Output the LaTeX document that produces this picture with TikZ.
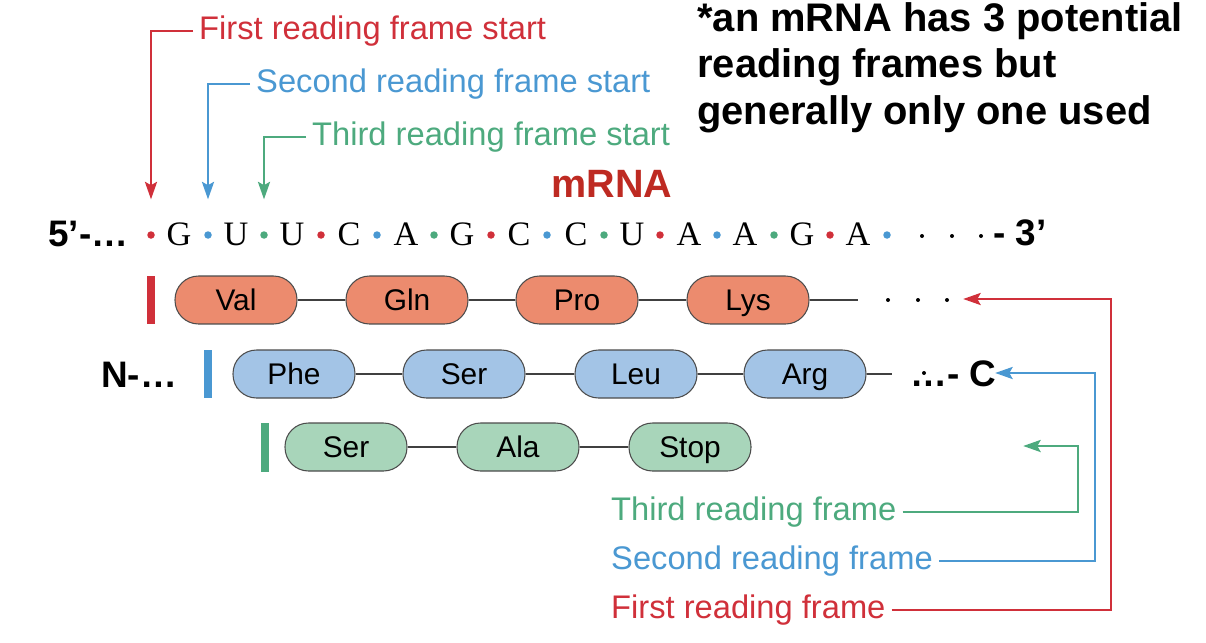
\documentclass[tikz,border=0pt]{standalone}
\usepackage{fontspec}
\setsansfont{Liberation Sans}
\newfontfamily\nucfont{Liberation Serif}
\usetikzlibrary{arrows.meta}
\definecolor{frA}{HTML}{D0303A}
\definecolor{frB}{HTML}{4A98D2}
\definecolor{frC}{HTML}{4DAA7E}
\definecolor{pillA}{HTML}{EC8B6E}
\definecolor{pillB}{HTML}{A3C4E6}
\definecolor{pillC}{HTML}{A8D5BA}
\definecolor{mrnared}{HTML}{BE2A22}
\begin{document}
\begin{tikzpicture}[
  x=0.02cm, y=-0.02cm,
  pill/.style={draw=black!70, line width=0.6pt, rectangle, rounded corners=0.47cm,
               minimum width=2.44cm, minimum height=0.96cm,
               text height=12.2pt, text depth=0pt,
               font=\sffamily\fontsize{17}{19}\selectfont},
  bar/.style={rectangle, inner sep=0pt, minimum width=0.17cm, minimum height=0.98cm},
  dot/.style={circle, inner sep=0pt, minimum size=0.15cm},
  sdot/.style={circle, fill=black, inner sep=0pt, minimum size=0.08cm},
  nuc/.style={anchor=base, inner sep=0pt, font=\nucfont\fontsize{19.5}{22}\selectfont},
  lbl/.style={anchor=west, font=\sffamily\fontsize{18.6}{20}\selectfont},
  endlbl/.style={anchor=base west, inner sep=0pt,
                 font=\sffamily\bfseries\fontsize{21}{24}\selectfont},
  note/.style={anchor=base west, inner sep=0pt,
               font=\sffamily\bfseries\fontsize{22.7}{26}\selectfont},
  link/.style={draw=black!75, line width=0.6pt},
  arr/.style={line width=0.8pt, shorten >=-1pt,
              -{Stealth[length=10pt, width=7pt, inset=2pt]}},
]
\useasboundingbox (0,0) rectangle (1206,642);
% note at top right
\node[note] (nt1) at (697,32) {*an mRNA has 3 potential};
\node[note] (nt2) at (697,78) {reading frames but};
\node[note] (nt3) at (697,124) {generally only one used};
\node[anchor=base west, inner sep=0pt, text=mrnared,
      font=\sffamily\bfseries\fontsize{22.5}{26}\selectfont] (mrna) at (551,197) {mRNA};
% frame start labels
\node[lbl, text=frA] (fs1) at (193,31) {First reading frame start};
\node[lbl, text=frB] (fs2) at (250,84) {Second reading frame start};
\node[lbl, text=frC] (fs3) at (306,137) {Third reading frame start};
% mRNA sequence
\node[endlbl] (five) at (48,246) {5’-…};
\node[dot, fill=frA] (d0) at (151,235) {};
\node[nuc] (n1) at (179,245) {G};
\node[dot, fill=frB] (d1) at (208,235) {};
\node[nuc] (n2) at (236,245) {U};
\node[dot, fill=frC] (d2) at (264,235) {};
\node[nuc] (n3) at (292,245) {U};
\node[dot, fill=frA] (d3) at (321,235) {};
\node[nuc] (n4) at (349,245) {C};
\node[dot, fill=frB] (d4) at (377,235) {};
\node[nuc] (n5) at (406,245) {A};
\node[dot, fill=frC] (d5) at (434,235) {};
\node[nuc] (n6) at (462,245) {G};
\node[dot, fill=frA] (d6) at (491,235) {};
\node[nuc] (n7) at (519,245) {C};
\node[dot, fill=frB] (d7) at (547,235) {};
\node[nuc] (n8) at (576,245) {C};
\node[dot, fill=frC] (d8) at (604,235) {};
\node[nuc] (n9) at (632,245) {U};
\node[dot, fill=frA] (d9) at (660,235) {};
\node[nuc] (n10) at (689,245) {A};
\node[dot, fill=frB] (d10) at (717,235) {};
\node[nuc] (n11) at (745,245) {A};
\node[dot, fill=frC] (d11) at (774,235) {};
\node[nuc] (n12) at (802,245) {G};
\node[dot, fill=frA] (d12) at (830,235) {};
\node[nuc] (n13) at (858,245) {A};
\node[dot, fill=frB] (d13) at (887,235) {};
\node[sdot] (s1) at (922,236) {};
\node[sdot] (s2) at (952,236) {};
\node[sdot] (s3) at (981,236) {};
\node[endlbl] (three) at (993,245) {- 3’};
\draw[arr, frA, shorten >=18pt] (fs1.west) -| (d0);
\draw[arr, frB, shorten >=18pt] (fs2.west) -| (d1);
\draw[arr, frC, shorten >=18pt] (fs3.west) -| (d2);
% first reading frame
\node[bar, fill=frA] (b1) at (151,300) {};
\node[pill, fill=pillA] (p1) at (236,300) {Val};
\node[pill, fill=pillA] (p2) at (407,300) {Gln};
\node[pill, fill=pillA] (p3) at (577,300) {Pro};
\node[pill, fill=pillA] (p4) at (748,300) {Lys};
\coordinate (t1) at (858,300);
\node[sdot] (q1) at (888,300) {};
\node[sdot] (q2) at (918,300) {};
\node[sdot] (q3) at (947,300) {};
\draw[link] (p1) -- (p2) (p2) -- (p3) (p3) -- (p4) (p4) -- (t1);
% second reading frame
\node[endlbl] (nterm) at (101,387) {N-…};
\node[bar, fill=frB] (b2) at (208,374) {};
\node[pill, fill=pillB] (r1) at (294,374) {Phe};
\node[pill, fill=pillB] (r2) at (464,374) {Ser};
\node[pill, fill=pillB] (r3) at (636,374) {Leu};
\node[pill, fill=pillB] (r4) at (805,374) {Arg};
\coordinate (t2) at (892,374);
\node[endlbl] (cterm) at (910,386) {…- C};
\node[sdot] (q4) at (924,373) {};
\draw[link] (r1) -- (r2) (r2) -- (r3) (r3) -- (r4) (r4) -- (t2);
% third reading frame
\node[bar, fill=frC] (b3) at (265,447) {};
\node[pill, fill=pillC] (g1) at (346,447) {Ser};
\node[pill, fill=pillC] (g2) at (518,447) {Ala};
\node[pill, fill=pillC] (g3) at (690,447) {Stop};
\draw[link] (g1) -- (g2) (g2) -- (g3);
% frame labels at bottom
\node[lbl, text=frC] (ff3) at (605,512) {Third reading frame};
\node[lbl, text=frB] (ff2) at (605,561) {Second reading frame};
\node[lbl, text=frA] (ff1) at (605,610) {First reading frame};
\coordinate (e1) at (965,299);
\coordinate (e2) at (997,373);
\coordinate (e3) at (1025,446);
\draw[arr, frC] (ff3.east) -| (1078,446) -- (e3);
\draw[arr, frB] (ff2.east) -| (1095,373) -- (e2);
\draw[arr, frA] (ff1.east) -| (1111,299) -- (e1);
\end{tikzpicture}
\end{document}
